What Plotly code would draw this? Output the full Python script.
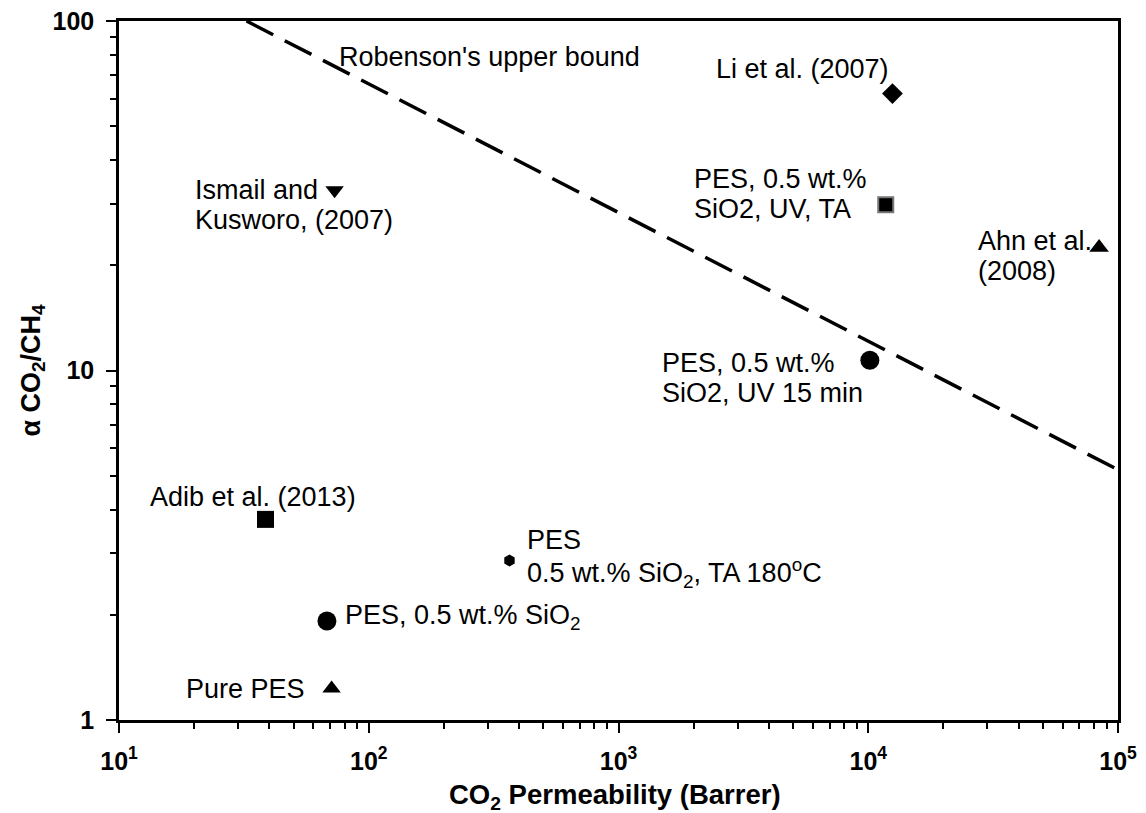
import math
import plotly.graph_objects as go

# ---- data ----
labels = ["Li et al. (2007)", "PES, 0.5 wt.% SiO2, UV, TA", "Ahn et al. (2008)",
          "PES, 0.5 wt.% SiO2, UV 15 min", "Ismail and Kusworo, (2007)",
          "Adib et al. (2013)", "PES 0.5 wt.% SiO2, TA 180oC",
          "PES, 0.5 wt.% SiO2", "Pure PES"]
perm_co2 = [12500, 11750, 84000, 10150, 73, 38.6, 366, 68, 71]
selectivity = [62, 29.8, 22.5, 10.7, 32.8, 3.75, 2.86, 1.92, 1.23]
symbols = ["diamond", "square", "triangle-up", "circle", "triangle-down",
           "square", "hexagon", "circle", "triangle-up"]
sizes = [16, 15, 17, 19, 16, 17, 12, 19, 16]

robeson_x = [32.4, 100000]
robeson_y = [100, 5.2]

x_tickvals = [10, 100, 1000, 10000, 100000]
x_ticktext = ["10<sup>1</sup>", "10<sup>2</sup>", "10<sup>3</sup>", "10<sup>4</sup>", "10<sup>5</sup>"]
y_tickvals = [1, 10, 100]
y_ticktext = ["1", "10", "100"]

FONT = "Liberation Sans, Arial, sans-serif"
ANN_SIZE = 27

fig = go.Figure()

fig.add_trace(go.Scatter(
    x=robeson_x, y=robeson_y, mode="lines",
    line=dict(color="black", width=3.5, dash="30px,13px"),
    showlegend=False, hoverinfo="skip"))

for i in range(len(labels)):
    line_col = "#777777" if i == 1 else "black"
    fig.add_trace(go.Scatter(
        x=[perm_co2[i]], y=[selectivity[i]], mode="markers",
        marker=dict(symbol=symbols[i], size=sizes[i], color="black",
                    line=dict(color=line_col, width=2 if i == 1 else 0)),
        name=labels[i], showlegend=False))

# label texts (line-by-line), anchored to each point with offsets
label_lines = [
    [("Li et al. (2007)", "right", -1, 25)],
    [("PES, 0.5 wt.%", "left", -194, 26), ("SiO2, UV, TA", "left", -194, -4)],
    [("Ahn et al.", "left", -123, 6), ("(2008)", "left", -123, -24)],
    [("PES, 0.5 wt.%", "left", -210, -3), ("SiO2, UV 15 min", "left", -210, -33)],
    [("Ismail and", "left", -142, 0), ("Kusworo, (2007)", "left", -142, -30)],
    [("Adib et al. (2013)", "left", -118, 22)],
    [("PES", "left", 16, 21), ("0.5 wt.% SiO<sub>2</sub>, TA 180<sup>o</sup>C", "left", 16, -12)],
    [("PES, 0.5 wt.% SiO<sub>2</sub>", "left", 16, 4)],
    [("Pure PES", "right", -25, 0)],
]

annotations = []
for i, lines in enumerate(label_lines):
    for txt, anchor, dx, dy in lines:
        annotations.append(dict(
            x=math.log10(perm_co2[i]), y=math.log10(selectivity[i]),
            xref="x", yref="y", text=txt, showarrow=False,
            xanchor=anchor, yanchor="middle", xshift=dx, yshift=dy,
            font=dict(family=FONT, size=ANN_SIZE, color="black")))

annotations.append(dict(
    x=1.873, y=1.896, xref="x", yref="y", text="Robenson's upper bound",
    showarrow=False, xanchor="left", yanchor="middle",
    font=dict(family=FONT, size=ANN_SIZE, color="black")))

annotations.append(dict(
    x=0.496, y=-0.110, xref="paper", yref="paper",
    text="<b>CO<sub>2</sub> Permeability (Barrer)</b>", showarrow=False,
    xanchor="center", yanchor="middle",
    font=dict(family=FONT, size=27.5, color="black")))
annotations.append(dict(
    x=-0.087, y=0.5, xref="paper", yref="paper",
    text="<b>α CO<sub>2</sub>/CH<sub>4</sub></b>", showarrow=False,
    textangle=-90, xanchor="center", yanchor="middle",
    font=dict(family=FONT, size=27, color="black")))

def minor_vals(lo, hi):
    vals = []
    for e in range(lo, hi):
        for m in range(2, 10):
            vals.append(m * 10 ** e)
    return vals

axis_common = dict(
    type="log", showgrid=False, zeroline=False,
    showline=True, linecolor="black", linewidth=2.5, mirror=True,
    ticks="outside", ticklen=10, tickwidth=2, tickcolor="black",
    tickmode="array", ticklabeloverflow="allow",
    tickfont=dict(family=FONT, size=25, color="black", weight="bold"),
)

fig.update_xaxes(
    **axis_common, range=[1, 5], tickvals=x_tickvals, ticktext=x_ticktext,
    ticklabelstandoff=7,
    minor=dict(ticks="outside", ticklen=6, tickwidth=2, tickcolor="black",
               tickmode="array", tickvals=minor_vals(1, 5), showgrid=False))
fig.update_yaxes(
    **axis_common, range=[0, 2], tickvals=y_tickvals, ticktext=y_ticktext,
    ticklabelstandoff=7,
    minor=dict(ticks="outside", ticklen=6, tickwidth=2, tickcolor="black",
               tickmode="array", tickvals=minor_vals(0, 2), showgrid=False))

# the page body adds an 8px offset, so the figure is made 8px smaller
fig.update_layout(
    width=1138, height=805,
    margin=dict(l=111, r=28, t=13, b=93, autoexpand=False),
    paper_bgcolor="white", plot_bgcolor="white",
    annotations=annotations, showlegend=False,
    font=dict(family=FONT, color="black"),
)

fig.write_html("out.html")
